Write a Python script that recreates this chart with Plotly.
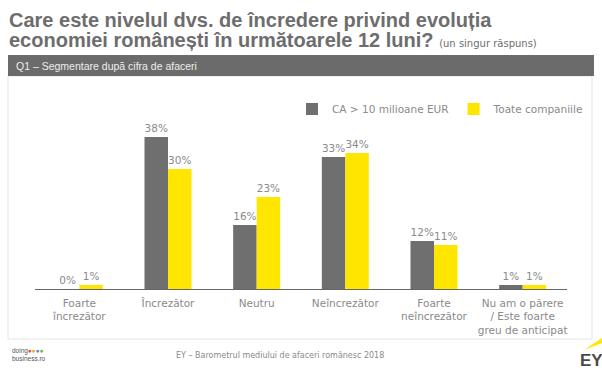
import plotly.graph_objects as go

categories = ["Foarte<br>încrezător", "Încrezător", "Neutru", "Neîncrezător",
              "Foarte<br>neîncrezător", "Nu am o părere<br>/ Este foarte<br>greu de anticipat"]
ca_10m = [0, 38, 16, 33, 12, 1]
toate = [1, 30, 23, 34, 11, 1]
series_names = ["CA > 10 milioane EUR", "Toate companiile"]

W_, H_ = 602, 370
L, R, T, B = 35, 567, 100, 289
PW, PH = R - L, B - T

def px(x):
    return (x - L) / PW

def py(y):
    return (B - y) / PH

GRAY = "#6f6f6f"
YELLOW = "#ffe600"
TXT = "#8a8a8a"
FONT = "Liberation Sans, Arial, sans-serif"
WIDE = "DejaVu Sans, Verdana, sans-serif"

fig = go.Figure()
for name, vals, col in [(series_names[0], ca_10m, GRAY), (series_names[1], toate, YELLOW)]:
    fig.add_trace(go.Bar(
        x=categories, y=vals, name=name, marker=dict(color=col, line=dict(width=0)),
        text=[f"{v}%" for v in vals], textposition="outside",
        textfont=dict(size=10.5, color=TXT, family=WIDE), cliponaxis=False,
    ))

shapes = [
    dict(type="rect", xref="paper", yref="paper", x0=px(8), x1=px(592), y0=py(339), y1=py(76),
         line=dict(color="#e3e3e3", width=1), fillcolor="rgba(0,0,0,0)", layer="below"),
    dict(type="rect", xref="paper", yref="paper", x0=px(8), x1=px(594), y0=py(76), y1=py(55),
         line=dict(width=0), fillcolor="#6b6b6b", layer="below"),
    dict(type="path", xref="paper", yref="paper",
         path=f"M {px(584)},{py(350)} L {px(602)},{py(338)} L {px(602)},{py(343)} Z",
         fillcolor=YELLOW, line=dict(width=0)),
]

annotations = [
    dict(text="<b>Care este nivelul dvs. de încredere privind evoluția</b>", x=px(7), y=py(20),
         xref="paper", yref="paper", xanchor="left", yanchor="middle", showarrow=False,
         font=dict(size=20, color="#6d6d6d", family=FONT)),
    dict(text="<b>economiei românești în următoarele 12 luni?</b> "
              "<span style='font-size:10px;font-family:DejaVu Sans'>(un singur răspuns)</span>",
         x=px(7), y=py(40), xref="paper", yref="paper", xanchor="left", yanchor="middle",
         showarrow=False, font=dict(size=20, color="#6d6d6d", family=FONT)),
    dict(text="Q1 – Segmentare după cifra de afaceri", x=px(14), y=py(65.5), xref="paper", yref="paper",
         xanchor="left", yanchor="middle", showarrow=False,
         font=dict(size=10.5, color="#eeeeee", family=FONT)),
    dict(text="EY – Barometrul mediului de afaceri românesc 2018", x=px(280), y=py(355),
         xref="paper", yref="paper", xanchor="center", yanchor="middle", showarrow=False,
         font=dict(size=8, color="#8a8a8a", family=WIDE)),
    dict(text="doing<span style='color:#e84c3d'>●</span><span style='color:#f5a623'>●</span><span style='color:#4a90d9'>●</span><span style='color:#7ab648'>●</span><br>business.ro",
         x=px(10), y=py(354), xref="paper", yref="paper", xanchor="left", yanchor="middle",
         showarrow=False, align="left", font=dict(size=6.5, color="#555555", family=FONT)),
    dict(text="<b>EY</b>", x=px(578), y=py(360), xref="paper", yref="paper", xanchor="left",
         yanchor="middle", showarrow=False, font=dict(size=17, color="#4a4a4a", family=FONT)),
]

fig.update_layout(
    width=W_, height=H_, margin=dict(l=L, r=W_ - R, t=T, b=H_ - B),
    paper_bgcolor="white", plot_bgcolor="white",
    barmode="group", bargap=0.47, bargroupgap=0,
    font=dict(family=WIDE, color=TXT),
    showlegend=True,
    legend=dict(orientation="h", x=px(292), y=py(109), xanchor="left", yanchor="middle",
                font=dict(size=10.5, color=TXT, family=WIDE), bgcolor="rgba(0,0,0,0)",
                itemwidth=30, traceorder="normal"),
    xaxis=dict(showline=True, linecolor="#666666", linewidth=1, ticks="", showgrid=False,
               tickfont=dict(size=10.5, color=TXT, family=WIDE), ticklabelstandoff=4, fixedrange=True),
    yaxis=dict(range=[0, PH / 4.0], visible=False, showgrid=False, zeroline=False, fixedrange=True),
    shapes=shapes, annotations=annotations,
)

fig.write_html("out.html")
